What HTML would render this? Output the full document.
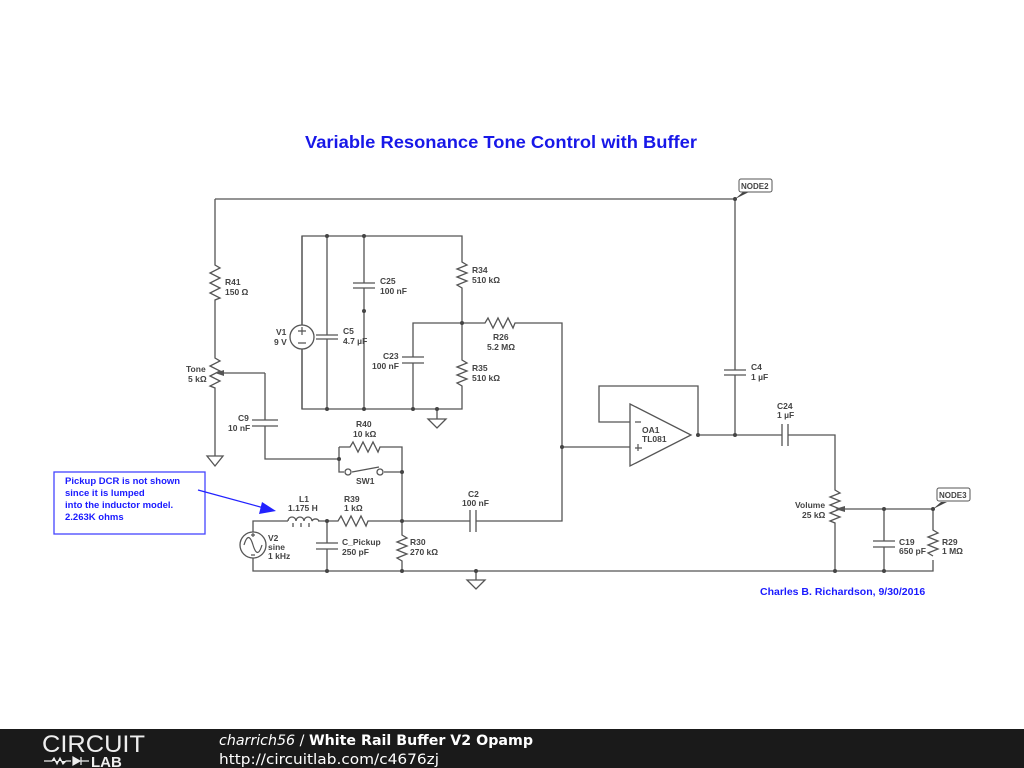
<!DOCTYPE html>
<html><head><meta charset="utf-8"><style>
html,body{margin:0;padding:0;background:#fff;width:1024px;height:768px;overflow:hidden}
svg{display:block}
text{font-family:"Liberation Sans",Arial,sans-serif}
.l{font-size:8.5px;font-weight:bold;fill:#444}
</style></head><body>
<svg width="1024" height="768" viewBox="0 0 1024 768">
<g stroke="#555" stroke-width="1.3" fill="none">
<path d="M215 199H735V370M735 375V435"/>
<path d="M215 199V265l5 3-10 5 10 5-10 5 10 5-10 5 10 5-5 2V358l5 3-10 5 10 5-10 5 10 5-10 5 5 2V456"/>
<path d="M265 373H224"/>
<path d="M207 456H223L215 466Z"/>
<path d="M265 373V420M252 420H278M252 426H278M265 426V459H339"/>
<path d="M302 236H462V262l5 3-10 4 10 4-10 4 10 4-10 4 5 3V360l5 3-10 4 10 4-10 4 10 4-10 4 5 3V409H302Z"/>
<path d="M302 236V325M302 349V409"/>
<path d="M327 236V335M316 335H338M316 339H338M327 339V409"/>
<path d="M364 236V283M353 283H375M353 288H375M364 288V409"/>
<path d="M413 409V363M402 363H424M402 357H424M413 357V323H462H485l3-5 5 10 5-10 5 10 5-10 5 10 2-5H562V521H476M470 521H402"/>
<path d="M470 510V532M476 510V532"/>
<path d="M437 409V419M428 419H446L437 428Z"/>
<path d="M339 447V472H344M352 472l27-5M384 472H402M339 447H350l3-5 5 10 5-10 5 10 5-10 5 10 2-5H402V535l5 3-10 4 10 4-10 4 10 4-10 4 5 3V571"/>
<path d="M253 532V521H288M318 521H338l3-5 5 10 5-10 5 10 5-10 5 10 2-5H402"/>
<path d="M288 521a4 4 0 0 1 8 0a4 4 0 0 1 8 0a4 4 0 0 1 8 0a4 4 0 0 1 7 0"/>
<path d="M293 523v4M301 523v4M309 523v4"/>
<path d="M253 558V571H933V560M327 521V543M316 543H338M316 549H338M327 549V571"/>
<path d="M476 571V580M467 580H485L476 589Z"/>
<path d="M630 404L691 435L630 466Z"/>
<path d="M630 422H599V386H698V435M562 447H630M698 435H782M782 424V446M788 424V446M788 435H835V490l5 3-10 4 10 4-10 4 10 4-10 4 10 4-10 4 5 2V571"/>
<path d="M724 370H746M724 375H746"/>
<path d="M845 509H933V530l5 3-10 4 10 4-10 4 10 4-10 4 5 3M884 509V541M873 541H895M873 547H895M884 547V571"/>
</g>
<path d="M215 373l9-3v6Z" fill="#555"/>
<path d="M835 509l10-3v6Z" fill="#555"/>
<g fill="#fff" stroke="#555" stroke-width="1.3">
<circle cx="302" cy="337" r="12"/><circle cx="253" cy="545" r="13"/>
<circle cx="348" cy="472" r="3"/><circle cx="380" cy="472" r="3"/>
</g>
<g stroke="#555" stroke-width="1.2" fill="none">
<path d="M298 331h8M302 327v8M298 343h8M244 545c3-10 6-10 9 0s6 10 9 0M253 533v4M251 535h4M251 555h4"/>
<path d="M635 422h6M635 448h7M638 444v7"/>
</g>
<g fill="#444">
<circle cx="327" cy="236" r="2"/><circle cx="364" cy="236" r="2"/><circle cx="327" cy="409" r="2"/><circle cx="364" cy="409" r="2"/><circle cx="413" cy="409" r="2"/><circle cx="437" cy="409" r="2"/><circle cx="462" cy="323" r="2"/><circle cx="364" cy="311" r="2"/>
<circle cx="339" cy="459" r="2"/><circle cx="402" cy="472" r="2"/><circle cx="402" cy="521" r="2"/><circle cx="327" cy="521" r="2"/><circle cx="327" cy="571" r="2"/><circle cx="402" cy="571" r="2"/><circle cx="476" cy="571" r="2"/><circle cx="562" cy="447" r="2"/>
<circle cx="698" cy="435" r="2"/><circle cx="735" cy="435" r="2"/><circle cx="884" cy="509" r="2"/><circle cx="933" cy="509" r="2"/><circle cx="835" cy="571" r="2"/><circle cx="884" cy="571" r="2"/><circle cx="735" cy="199" r="2"/>
<path d="M735 199l8-7h6Z"/><path d="M933 509l8-7h6Z"/>
</g>
<rect x="739" y="179" width="33" height="13" rx="2" fill="#fff" stroke="#555"/>
<text x="741" y="189" class="l" style="font-size:8px">NODE2</text>
<rect x="937" y="488" width="33" height="13" rx="2" fill="#fff" stroke="#555"/>
<text x="939" y="498" class="l" style="font-size:8px">NODE3</text>
<g class="l">
<text x="225" y="285">R41</text><text x="225" y="295">150 Ω</text>
<text x="186" y="372">Tone</text><text x="188" y="382">5 kΩ</text>
<text x="238" y="421">C9</text><text x="228" y="431">10 nF</text>
<text x="276" y="335">V1</text><text x="274" y="345">9 V</text>
<text x="343" y="334">C5</text><text x="343" y="344">4.7 µF</text>
<text x="380" y="284">C25</text><text x="380" y="294">100 nF</text>
<text x="472" y="273">R34</text><text x="472" y="283">510 kΩ</text>
<text x="493" y="340">R26</text><text x="487" y="350">5.2 MΩ</text>
<text x="383" y="359">C23</text><text x="372" y="369">100 nF</text>
<text x="472" y="371">R35</text><text x="472" y="381">510 kΩ</text>
<text x="356" y="427">R40</text><text x="353" y="437">10 kΩ</text>
<text x="356" y="484">SW1</text>
<text x="299" y="502">L1</text><text x="288" y="511">1.175 H</text>
<text x="344" y="502">R39</text><text x="344" y="511">1 kΩ</text>
<text x="468" y="497">C2</text><text x="462" y="506">100 nF</text>
<text x="268" y="541">V2</text><text x="268" y="550">sine</text><text x="268" y="559">1 kHz</text>
<text x="342" y="545">C_Pickup</text><text x="342" y="555">250 pF</text>
<text x="410" y="545">R30</text><text x="410" y="555">270 kΩ</text>
<text x="642" y="433">OA1</text><text x="642" y="442">TL081</text>
<text x="751" y="370">C4</text><text x="751" y="380">1 µF</text>
<text x="777" y="409">C24</text><text x="777" y="418">1 µF</text>
<text x="795" y="508">Volume</text><text x="802" y="518">25 kΩ</text>
<text x="899" y="545">C19</text><text x="899" y="554">650 pF</text>
<text x="942" y="545">R29</text><text x="942" y="554">1 MΩ</text>
</g>
<text x="501" y="148" text-anchor="middle" style="font-size:17.5px;font-weight:bold;fill:#1818e8" textLength="392" lengthAdjust="spacingAndGlyphs">Variable Resonance Tone Control with Buffer</text>
<rect x="54" y="472" width="151" height="62" fill="#fff" stroke="#4444ff" stroke-width="1.3"/>
<g style="font-size:9.5px;font-weight:bold;fill:#1a1aff">
<text x="65" y="484">Pickup DCR is not shown</text><text x="65" y="496">since it is lumped</text><text x="65" y="508">into the inductor model.</text><text x="65" y="520"> 2.263K ohms</text></g>
<path d="M198 490L264 508" stroke="#2222ff" stroke-width="1.2"/>
<path d="M276 511L262 502L259 514Z" fill="#2222ff"/>
<text x="760" y="595" style="font-size:10.5px;font-weight:bold;fill:#1a1aff">Charles B. Richardson, 9/30/2016</text>
<rect x="0" y="729" width="1024" height="39" fill="#1a1a1a"/>
<text x="42" y="752" style="font-size:24px;fill:#eee" textLength="103" lengthAdjust="spacingAndGlyphs">CIRCUIT</text>
<path d="M44 761h8l2-3 3 6 3-6 3 6 3-3h5M73 757v8l7-4ZM81 757v8M81 761h8" stroke="#eee" stroke-width="1.2" fill="#eee"/>
<text x="91" y="767" style="font-size:15px;font-weight:bold;fill:#eee">LAB</text>
<text x="219" y="745" style="font-size:14.5px;fill:#fff;font-family:'DejaVu Sans',sans-serif" textLength="314" lengthAdjust="spacingAndGlyphs"><tspan style="font-style:italic">charrich56</tspan> / <tspan style="font-weight:bold">White Rail Buffer V2 Opamp</tspan></text>
<text x="219" y="764" style="font-size:14.5px;fill:#fff;font-family:'DejaVu Sans',sans-serif" textLength="220" lengthAdjust="spacingAndGlyphs">http://circuitlab.com/c4676zj</text>
</svg>
</body></html>
